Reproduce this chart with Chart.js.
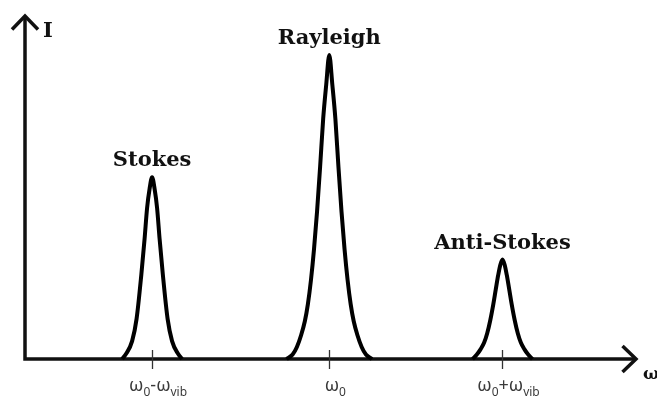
<!DOCTYPE html>
<html>
<head>
<meta charset="utf-8">
<script src="https://cdn.jsdelivr.net/npm/chart.js@4.4.1/dist/chart.umd.min.js"></script>
<style>
    html, body { margin: 0; padding: 0; background: #fff; }
    #wrap { width: 657px; height: 399px; position: relative; }
</style>
</head>
<body>
<div id="wrap"><canvas id="spectrum"></canvas></div>
<script>
// peak shapes (x = frequency, y = intensity, both 0..100)
const stokesX = [15.9, 16.55, 17.53, 18.26, 19.05, 19.57, 19.98, 20.39, 20.8, 21.21, 21.62, 22.03, 22.55, 23.34, 24.07, 25.05, 25.7];
const stokesY = [0, 1.5, 5.2, 11.7, 24.8, 35, 44, 49.6, 53, 49.6, 44, 35, 24.8, 11.7, 5.2, 1.5, 0];

const rayleighX = [42.8, 43.8, 44.5, 45.2, 45.8, 46.3, 46.8, 47.3, 47.8, 48.3, 48.8, 49.3, 49.8,
                   50.3, 50.8, 51.3, 51.8, 52.3, 52.8, 53.3, 53.8, 54.4, 55.1, 55.8, 56.8];
const rayleighY = [0, 1.3, 3.5, 7, 11, 16, 23, 32, 43, 56, 70, 80, 88.6,
                   80, 70, 56, 43, 32, 23, 16, 11, 7, 3.5, 1.3, 0];

const antiX = [73.25, 73.95, 74.55, 75.15, 75.65, 76.15, 76.65, 77.05, 77.45, 77.8, 78.15,
               78.5, 78.85, 79.25, 79.65, 80.15, 80.65, 81.15, 81.75, 82.35, 83.05];
const antiY = [0, 1.3, 2.8, 4.8, 7.5, 11.3, 16, 20.3, 24.5, 27.5, 29,
               27.5, 24.5, 20.3, 16, 11.3, 7.5, 4.8, 2.8, 1.3, 0];

const peakNames = ["Stokes", "Rayleigh", "Anti-Stokes"];

// x ticks, {..} = subscript
const tickValues = [20.8, 49.8, 78.15];
const tickLabels = ["ω{0}-ω{vib}", "ω{0}", "ω{0}+ω{vib}"];

const yAxisTitle = "I";
const xAxisTitle = "ω";

const toPoints = (xs, ys) => xs.map((x, i) => ({ x, y: ys[i] }));

function splitLabel(str) {
    // "ω{0}" -> [{t:"ω",sub:false},{t:"0",sub:true}]
    const parts = [];
    str.split(/(\{[^}]*\})/).forEach(p => {
        if (!p) return;
        if (p[0] === "{") parts.push({ t: p.slice(1, -1), sub: true });
        else parts.push({ t: p, sub: false });
    });
    return parts;
}

const MAIN_FONT = "18px 'Noto Sans', sans-serif";
const SUB_FONT = "12px 'Noto Sans', sans-serif";
const SERIF_BOLD = "bold 21px 'DejaVu Serif', serif";

const axesPlugin = {
    id: "axesPlugin",
    beforeDatasetsDraw(chart) {
        const { ctx, chartArea: a, scales: { x } } = chart;
        ctx.save();
        ctx.strokeStyle = "#111";
        ctx.lineWidth = 3.5;
        ctx.lineJoin = "miter";
        ctx.lineCap = "butt";

        // axis lines
        ctx.beginPath();
        ctx.moveTo(a.left, a.top);
        ctx.lineTo(a.left, a.bottom);
        ctx.lineTo(a.right, a.bottom);
        ctx.stroke();

        // arrow heads
        ctx.beginPath();
        ctx.moveTo(a.left - 13, a.top + 13.5);
        ctx.lineTo(a.left, a.top);
        ctx.lineTo(a.left + 13, a.top + 13.5);
        ctx.stroke();
        ctx.beginPath();
        ctx.moveTo(a.right - 13.5, a.bottom - 13);
        ctx.lineTo(a.right, a.bottom);
        ctx.lineTo(a.right - 13.5, a.bottom + 13);
        ctx.stroke();

        // tick marks
        ctx.lineWidth = 1.3;
        ctx.strokeStyle = "#333";
        tickValues.forEach(v => {
            const px = Math.round(x.getPixelForValue(v)) + 0.5;
            ctx.beginPath();
            ctx.moveTo(px, a.bottom - 9);
            ctx.lineTo(px, a.bottom + 10);
            ctx.stroke();
        });

        // tick labels with subscripts
        ctx.fillStyle = "#3a3a3a";
        ctx.textBaseline = "alphabetic";
        ctx.textAlign = "left";
        tickValues.forEach((v, i) => {
            const parts = splitLabel(tickLabels[i]);
            let w = 0;
            parts.forEach(p => {
                ctx.font = p.sub ? SUB_FONT : MAIN_FONT;
                p.w = ctx.measureText(p.t).width;
                w += p.w;
            });
            let cx = x.getPixelForValue(v) + 6 - w / 2;
            const base = a.bottom + 32;
            parts.forEach(p => {
                ctx.font = p.sub ? SUB_FONT : MAIN_FONT;
                ctx.fillText(p.t, cx, p.sub ? base + 5 : base);
                cx += p.w;
            });
        });

        // axis titles
        ctx.fillStyle = "#111";
        ctx.font = SERIF_BOLD;
        ctx.fillText(yAxisTitle, a.left + 18, a.top + 21);
        ctx.font = "bold 17px 'DejaVu Serif', serif";
        ctx.fillText(xAxisTitle, a.right + 7, a.bottom + 20);
        ctx.restore();
    },
    afterDatasetsDraw(chart) {
        const { ctx } = chart;
        ctx.save();
        ctx.font = SERIF_BOLD;
        ctx.fillStyle = "#111";
        ctx.textAlign = "center";
        ctx.textBaseline = "alphabetic";
        chart.data.datasets.forEach((ds, i) => {
            const meta = chart.getDatasetMeta(i);
            let top = 0;
            ds.data.forEach((p, j) => { if (p.y > ds.data[top].y) top = j; });
            const el = meta.data[top];
            ctx.fillText(peakNames[i], el.x, el.y - 11);
        });
        ctx.restore();
    }
};

const lineStyle = {
    borderColor: "#000",
    borderWidth: 4,
    pointRadius: 0,
    fill: false,
    clip: false,
    cubicInterpolationMode: "monotone"
};

new Chart(document.getElementById("spectrum").getContext("2d"), {
    type: "line",
    data: {
        datasets: [
            { label: peakNames[0], data: toPoints(stokesX, stokesY), ...lineStyle },
            { label: peakNames[1], data: toPoints(rayleighX, rayleighY), ...lineStyle },
            { label: peakNames[2], data: toPoints(antiX, antiY), ...lineStyle }
        ]
    },
    options: {
        responsive: true,
        maintainAspectRatio: false,
        animation: false,
        layout: { padding: { left: 25, right: 21, top: 16, bottom: 40 } },
        scales: {
            x: { type: "linear", min: 0, max: 100, display: false },
            y: { type: "linear", min: 0, max: 100, display: false }
        },
        plugins: {
            legend: { display: false },
            tooltip: { enabled: false }
        }
    },
    plugins: [axesPlugin]
});
</script>
</body>
</html>
